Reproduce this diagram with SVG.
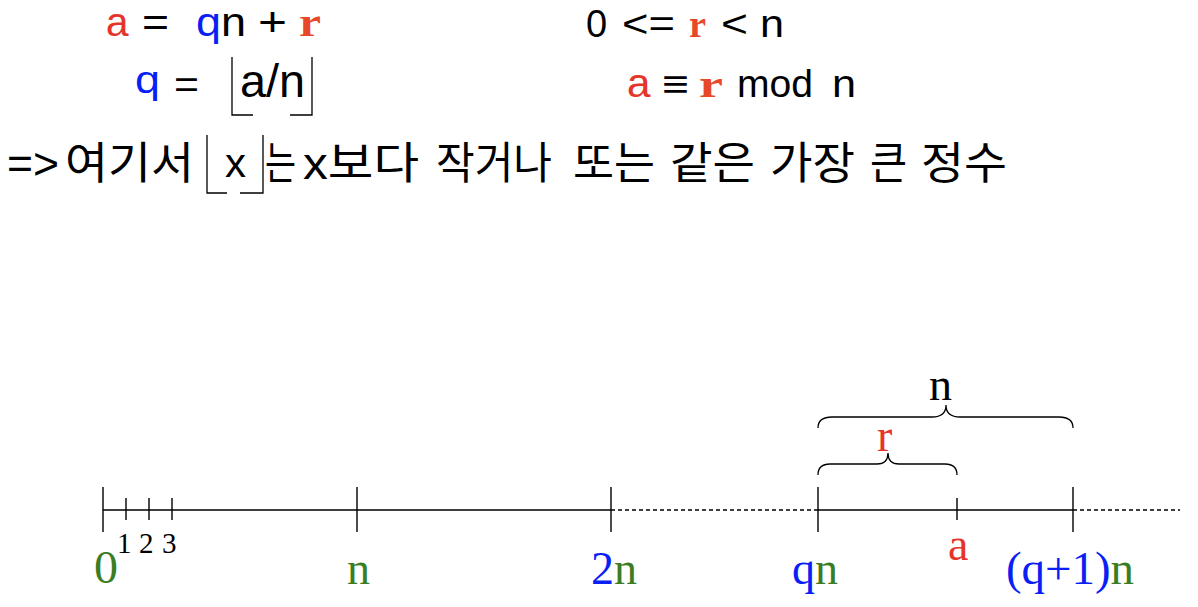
<svg xmlns="http://www.w3.org/2000/svg" width="1198" height="607" viewBox="0 0 1198 607">
<style>
.s{font-family:"Liberation Sans",Arial,sans-serif;fill:#000}
.m{font-family:"Liberation Mono","Courier New",monospace}
.rb{font-family:"Liberation Serif","Times New Roman",serif;font-weight:bold;fill:#e8482a}
.k{font-family:"Liberation Sans","Noto Sans CJK KR",sans-serif;font-size:44px;fill:#000}
.t{font-family:"Liberation Serif","Times New Roman",serif;font-size:46px}
.t.sm{font-size:29px}
.k.kx{font-size:41px}
.red{fill:#e5352a}.blue{fill:#0a1ff5}.green{fill:#3a7d23}.blk{fill:#000}
.ln{stroke:#000;stroke-width:1.4;fill:none}
.br{stroke:#000;stroke-width:1.3;fill:none}
.ds{stroke:#000;stroke-width:1.3;stroke-dasharray:4 3;fill:none}
</style>
<g id="formula1">
<text class="m red" x="105" y="36" font-size="41" textLength="25" lengthAdjust="spacingAndGlyphs">a</text>
<text class="s" x="142" y="36" font-size="40" textLength="27" lengthAdjust="spacingAndGlyphs">=</text>
<text class="s" x="196" y="36" font-size="40" textLength="50" lengthAdjust="spacingAndGlyphs"><tspan class="blue">q</tspan>n</text>
<text class="s" x="258" y="36" font-size="40" textLength="29" lengthAdjust="spacingAndGlyphs">+</text>
<text class="rb" x="299" y="36" font-size="40" textLength="22" lengthAdjust="spacingAndGlyphs">r</text>
</g>
<g id="formula2">
<text class="s blue" x="135" y="93" font-size="38" textLength="25" lengthAdjust="spacingAndGlyphs">q</text>
<text class="s" x="174" y="98" font-size="38" textLength="25" lengthAdjust="spacingAndGlyphs">=</text>
<text class="s" x="240" y="97" font-size="46" textLength="65" lengthAdjust="spacingAndGlyphs">a/n</text>
<path class="br" d="M232,57 V115 H253 M312,57 V115 H290"/>
</g>
<g id="formula3">
<text class="s" x="586" y="37" font-size="38">0</text>
<text class="s" x="622" y="37" font-size="38" textLength="53" lengthAdjust="spacingAndGlyphs">&lt;=</text>
<text class="rb" x="689" y="37" font-size="38" textLength="17" lengthAdjust="spacingAndGlyphs">r</text>
<text class="s" x="721" y="37" font-size="38" textLength="27" lengthAdjust="spacingAndGlyphs">&lt;</text>
<text class="s" x="760" y="37" font-size="38" textLength="24" lengthAdjust="spacingAndGlyphs">n</text>
</g>
<g id="formula4">
<text class="m red" x="626" y="97" font-size="41" textLength="26" lengthAdjust="spacingAndGlyphs">a</text>
<text class="s" x="662" y="97" font-size="38" textLength="27" lengthAdjust="spacingAndGlyphs">≡</text>
<text class="rb" x="699" y="97" font-size="38" textLength="24" lengthAdjust="spacingAndGlyphs">r</text>
<text class="s" x="737" y="97" font-size="38" textLength="76" lengthAdjust="spacingAndGlyphs">mod</text>
<text class="s" x="832" y="97" font-size="38" textLength="24" lengthAdjust="spacingAndGlyphs">n</text>
</g>
<g id="note">
<text class="k" x="7" y="179" textLength="52" lengthAdjust="spacingAndGlyphs">=&gt;</text>
<text class="k" x="65" y="179" textLength="129" lengthAdjust="spacingAndGlyphs">여기서</text>
<text class="k kx" x="225" y="177" textLength="21" lengthAdjust="spacingAndGlyphs">x</text>
<path class="br" d="M207,135 V193 H227 M263,135 V193 H240"/>
<text class="k" x="265" y="179" textLength="31" lengthAdjust="spacingAndGlyphs">는</text>
<text class="k" x="303" y="179" textLength="116" lengthAdjust="spacingAndGlyphs">x보다</text>
<text class="k" x="436" y="179" textLength="116" lengthAdjust="spacingAndGlyphs">작거나</text>
<text class="k" x="573" y="179" textLength="82" lengthAdjust="spacingAndGlyphs">또는</text>
<text class="k" x="670" y="179" textLength="85" lengthAdjust="spacingAndGlyphs">같은</text>
<text class="k" x="770" y="179" textLength="85" lengthAdjust="spacingAndGlyphs">가장</text>
<text class="k" x="870" y="179" textLength="37" lengthAdjust="spacingAndGlyphs">큰</text>
<text class="k" x="921" y="179" textLength="86" lengthAdjust="spacingAndGlyphs">정수</text>
</g>
<g id="connectors">
<path class="ln" d="M103,510 H611 M818,510 H1073"/>
<path class="ds" d="M611,510 H818 M1073,510 H1180"/>
<path class="ln" d="M103,487 V532 M357,487 V532 M611,487 V532 M818,487 V532 M1073,487 V532"/>
<path class="ln" d="M126,498 V520 M149,498 V520 M172,498 V520 M957,498 V520"/>
<path class="br" d="M818,428 C818,421 822,417 832,417 L932,417 C941,417 946,413 946,405 C946,413 951,417 960,417 L1059,417 C1069,417 1073,421 1073,428"/>
<path class="br" d="M818,475 C818,468 822,464 830,464 L877,464 C884,464 888,460 888,453 C888,460 892,464 899,464 L945,464 C953,464 957,468 957,475"/>
</g>
<g id="labels">
<text class="t green" x="94" y="583" textLength="24" lengthAdjust="spacingAndGlyphs">0</text>
<text class="t sm blk" x="117" y="553">1</text>
<text class="t sm blk" x="139" y="553">2</text>
<text class="t sm blk" x="162" y="553">3</text>
<text class="t green" x="347" y="584">n</text>
<text class="t" x="591" y="584"><tspan class="blue">2</tspan><tspan class="green">n</tspan></text>
<text class="t" x="792" y="584"><tspan class="blue">q</tspan><tspan class="green">n</tspan></text>
<text class="t red" x="948" y="560">a</text>
<text class="t" x="1006" y="584" textLength="128" lengthAdjust="spacingAndGlyphs"><tspan class="blue">(q+1)</tspan><tspan class="green">n</tspan></text>
<text class="t blk" x="929" y="400">n</text>
<text class="t red" x="877" y="451">r</text>
</g>
</svg>
